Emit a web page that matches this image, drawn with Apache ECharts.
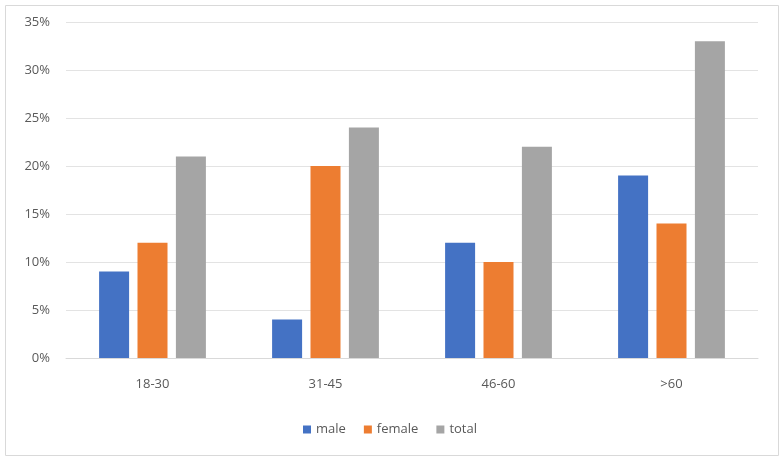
<!DOCTYPE html>
<html><head><meta charset="utf-8">
<script src="https://cdn.jsdelivr.net/npm/echarts@6/dist/echarts.min.js"></script>
<style>html,body{margin:0;padding:0;background:#fff}#c{width:780px;height:457px}</style>
</head><body><div id="c"></div>
<script>
const categories = ['18-30', '31-45', '46-60', '>60'];
const male = [9, 4, 12, 19];
const female = [12, 20, 10, 14];
const total = [21, 24, 22, 33];
const yTicks = [0, 5, 10, 15, 20, 25, 30, 35];

const chart = echarts.init(document.getElementById('c'));
const font = 'Open Sans, Noto Sans, sans-serif';
chart.setOption({
  animation: false,
  textStyle: { fontFamily: font },
  graphic: [{
    type: 'rect', left: 3, top: 3,
    shape: { width: 773, height: 450 },
    style: { fill: 'none', stroke: '#d9d9d9', lineWidth: 1 }
  }],
  grid: { left: 66, right: 22, top: 22, bottom: 99 },
  legend: {
    bottom: 16, left: 'center',
    itemWidth: 8, itemHeight: 8, itemGap: 18,
    icon: 'rect',
    textStyle: { color: '#595959', fontSize: 13, fontFamily: font }
  },
  xAxis: {
    type: 'category', data: categories,
    axisLine: { lineStyle: { color: '#d9d9d9' } },
    axisTick: { show: false },
    axisLabel: { color: '#595959', fontSize: 13, margin: 20, fontFamily: font }
  },
  yAxis: {
    type: 'value', min: yTicks[0], max: yTicks[yTicks.length - 1], interval: 5,
    axisLine: { show: false }, axisTick: { show: false },
    splitLine: { lineStyle: { color: '#e3e3e3' } },
    axisLabel: { color: '#595959', fontSize: 13, margin: 16, formatter: v => v + '%', fontFamily: font }
  },
  series: [
    { name: 'male', type: 'bar', data: male, barWidth: 30, barGap: '28%', itemStyle: { color: '#4472c4' } },
    { name: 'female', type: 'bar', data: female, barWidth: 30, barGap: '28%', itemStyle: { color: '#ed7d31' } },
    { name: 'total', type: 'bar', data: total, barWidth: 30, barGap: '28%', itemStyle: { color: '#a5a5a5' } }
  ]
});
</script></body></html>
